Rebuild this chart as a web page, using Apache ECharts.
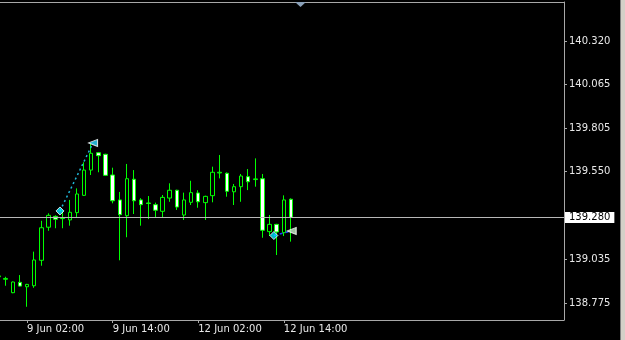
<!DOCTYPE html>
<html>
<head>
<meta charset="utf-8">
<script src="https://cdn.jsdelivr.net/npm/echarts@6/dist/echarts.min.js"></script>
<style>
html,body{margin:0;padding:0;background:#000;}
#c{width:625px;height:340px;}
</style>
</head>
<body>
<div id="c"></div>
<script>
// Hourly bars (broker time)
const times = [
  "8 Jun 22:00","8 Jun 23:00","9 Jun 00:00","9 Jun 01:00","9 Jun 02:00","9 Jun 03:00","9 Jun 04:00","9 Jun 05:00",
  "9 Jun 06:00","9 Jun 07:00","9 Jun 08:00","9 Jun 09:00","9 Jun 10:00","9 Jun 11:00","9 Jun 12:00","9 Jun 13:00",
  "9 Jun 14:00","9 Jun 15:00","9 Jun 16:00","9 Jun 17:00","9 Jun 18:00","9 Jun 19:00","9 Jun 20:00","9 Jun 21:00",
  "9 Jun 22:00","9 Jun 23:00","12 Jun 00:00","12 Jun 01:00","12 Jun 02:00","12 Jun 03:00","12 Jun 04:00","12 Jun 05:00",
  "12 Jun 06:00","12 Jun 07:00","12 Jun 08:00","12 Jun 09:00","12 Jun 10:00","12 Jun 11:00","12 Jun 12:00","12 Jun 13:00",
  "12 Jun 14:00","12 Jun 15:00"
];
const opens = [138.930,138.915,138.836,138.897,138.871,138.877,139.027,139.222,139.286,139.273,139.265,139.308,139.410,139.559,139.661,139.652,
  139.530,139.383,139.290,139.505,139.383,139.365,139.355,139.316,139.394,139.440,139.294,139.369,139.424,139.367,139.408,139.542,
  139.540,139.431,139.461,139.520,139.503,139.508,139.196,139.239,139.190,139.387];
const highs = [138.940,138.930,138.902,138.940,138.888,139.078,139.260,139.304,139.292,139.324,139.383,139.451,139.605,139.713,139.665,139.655,
  139.573,139.430,139.595,139.559,139.393,139.406,139.367,139.412,139.481,139.443,139.426,139.496,139.440,139.408,139.579,139.648,
  139.545,139.477,139.536,139.565,139.628,139.536,139.294,139.242,139.410,139.392];
const lows = [138.925,138.877,138.833,138.873,138.753,138.865,138.995,139.201,139.216,139.216,139.231,139.280,139.406,139.530,139.546,139.525,
  139.363,139.027,139.163,139.300,139.231,139.270,139.280,139.280,139.372,139.324,139.265,139.353,139.337,139.265,139.369,139.510,
  139.402,139.353,139.372,139.441,139.461,139.160,139.170,139.058,139.170,139.137];
const closes = [138.935,138.920,138.899,138.875,138.885,139.029,139.219,139.292,139.269,139.277,139.310,139.418,139.559,139.658,139.644,139.528,
  139.378,139.296,139.508,139.378,139.355,139.362,139.322,139.398,139.440,139.341,139.383,139.426,139.372,139.404,139.546,139.546,
  139.434,139.461,139.524,139.490,139.507,139.204,139.239,139.194,139.383,139.280];

const priceTicks = [138.775, 139.035, 139.550, 139.805, 140.065, 140.320];
const timeTickIdx = [4, 16, 28, 40];
const currentPrice = 139.280;

// Trade history (bar position, price)
const trade1Open = [8.62, 139.318];
const trade1Close = [13.25, 139.719];
const trade2Open = [38.6, 139.173];
const trade2Close = [41.1, 139.200];

const candleData = times.map((t, i) => [i, opens[i], closes[i], lows[i], highs[i]]);

const chart = echarts.init(document.getElementById('c'), null, {renderer: 'canvas'});
const FONT = 'DejaVu Sans';
const AX = '#a8a8a8';
chart.setOption({
  backgroundColor: '#000',
  animation: false,
  grid: {left: 0, right: 61, top: 2, bottom: 20, containLabel: false},
  xAxis: [{
    type: 'value', min: 0.21, max: 79.27,
    axisLine: {show: true, lineStyle: {color: AX, width: 1}},
    axisTick: {show: true, customValues: timeTickIdx, length: 3, lineStyle: {color: AX}},
    axisLabel: {show: true, customValues: timeTickIdx, formatter: v => times[Math.round(v)] || '',
      align: 'left', color: '#e8e8e8', fontFamily: FONT, fontSize: 10, margin: 4},
    splitLine: {show: false}
  }, {
    type: 'value', position: 'top', min: 0.21, max: 79.27,
    axisLine: {show: true, lineStyle: {color: AX, width: 1}},
    axisTick: {show: false}, axisLabel: {show: false}, splitLine: {show: false}
  }],
  yAxis: {
    type: 'value', position: 'right', min: 138.675, max: 140.550,
    axisLine: {show: true, lineStyle: {color: AX, width: 1}},
    axisTick: {show: true, customValues: priceTicks, length: 3, lineStyle: {color: AX}},
    axisLabel: {show: true, customValues: priceTicks, formatter: v => v.toFixed(3),
      color: '#e8e8e8', fontFamily: FONT, fontSize: 10, margin: 5},
    splitLine: {show: false}
  },
  series: [{
    type: 'candlestick',
    data: candleData,
    encode: {x: 0, y: [1, 2, 3, 4]},
    barWidth: 4,
    clip: true,
    itemStyle: {color: '#000000', color0: '#ffffff', borderColor: '#00ff00', borderColor0: '#00ff00', borderColorDoji: '#00ff00', borderWidth: 1},
    markLine: {
      silent: true, symbol: ['none', 'none'], animation: false,
      lineStyle: {color: '#b8b8b8', type: 'solid', width: 1},
      label: {show: true, position: 'end', distance: 1, formatter: () => currentPrice.toFixed(3),
        color: '#000', backgroundColor: '#ffffff', fontFamily: FONT, fontSize: 10, padding: [1, 4, 0, 4]},
      data: [{yAxis: currentPrice}]
    }
  }, {
    type: 'line', data: [trade1Open, trade1Close], symbol: 'none',
    lineStyle: {color: '#20b8d8', width: 1.5, type: [2, 3]}, z: 3
  }, {
    type: 'line', data: [trade2Open, trade2Close], symbol: 'none',
    lineStyle: {color: '#2040ff', width: 1.5, type: [3, 3]}, z: 3
  }, {
    type: 'scatter', data: [trade1Open, trade2Open], symbol: 'diamond', symbolSize: 8,
    itemStyle: {color: '#00e8ff', borderColor: '#ffffff', borderWidth: 1}, z: 4
  }, {
    type: 'scatter', data: [trade1Close], symbol: 'triangle', symbolSize: [7, 9], symbolRotate: 90,
    itemStyle: {color: '#30d8ff', borderColor: '#ffffff', borderWidth: 1}, z: 4
  }, {
    type: 'scatter', data: [trade2Close], symbol: 'triangle', symbolSize: [7, 9], symbolRotate: 90,
    itemStyle: {color: '#c8f0c8', borderColor: '#ffffff', borderWidth: 1}, z: 4
  }],
  graphic: [
    {type: 'polygon', shape: {points: [[295, 2], [306, 2], [300.5, 7]]}, style: {fill: '#8aa0b8'}, z: 10},
    {type: 'rect', shape: {x: 620, y: 0, width: 5, height: 340}, style: {fill: '#d4d0c8'}, z: 10},
    {type: 'line', shape: {x1: 620.5, y1: 0, x2: 620.5, y2: 340}, style: {stroke: '#808080', lineWidth: 1}, z: 11}
  ]
});
</script>
</body>
</html>
